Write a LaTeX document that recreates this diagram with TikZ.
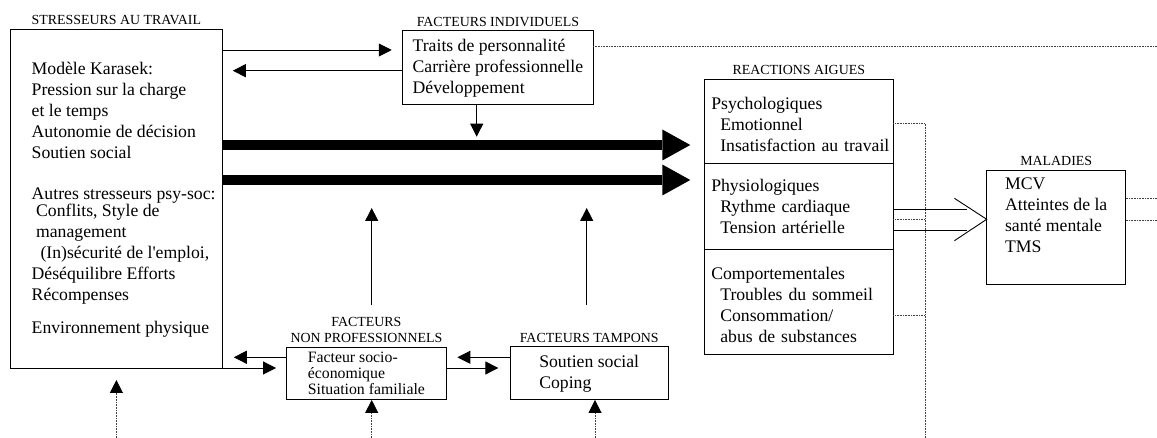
\documentclass[tikz,border=0pt]{standalone}
\usepackage{fontspec}
\setmainfont{Liberation Serif}
\usetikzlibrary{arrows.meta,positioning}
\tikzset{words/.style={inner sep=0,outer sep=0,align=left,font=\fontsize{17.7}{21}\selectfont},
    boxy/.style={draw,rectangle,line width=0.9pt,words},
    reacpart/.style={boxy,minimum width=189pt,text width=175pt},
    headline/.style={inner sep=0,align=center,font=\fontsize{13.9}{16.6}\selectfont},
    thinarrow/.style={-{Triangle[length=13pt,width=13pt]},line width=0.9pt},
    fatarrow/.style={-{Triangle[length=28pt,width=31pt,line width=0pt]},line width=10pt},
    dotty/.style={line width=0.8pt,dash pattern=on 0.8pt off 0.8pt,black!75},
    dotarrow/.style={dotty,-{Triangle[length=13pt,width=13pt,color=black]}}
}
\begin{document}
\begin{tikzpicture}[x=1pt,y=1pt,label distance=4pt]

\path [use as bounding box,fill=white] (0,0) rectangle (1157,438);

%% boxes
\node (stress) [boxy,minimum width=212.7pt,minimum height=339pt,label={[headline]above:STRESSEURS AU TRAVAIL}] at (116.4,239.5) {};
\node (stressTxt) [words,anchor=north west] at (31.7,376.3) {Modèle Karasek:\\Pression sur la charge\\et le temps\\Autonomie de décision\\Soutien social\\[20pt]Autres stresseurs psy-soc:\\[-4pt]\hspace*{4.4pt}Conflits, Style de\\\hspace*{4.4pt}management\\\hspace*{8.8pt}(In)sécurité de l\textquotesingle emploi,\\Déséquilibre Efforts\\Récompenses\\[12pt]Environnement physique};

\node (indiv) [boxy,minimum width=190.3pt,minimum height=74.3pt,label={[headline]above:FACTEURS INDIVIDUELS}] at (497.9,370.2) {Traits de personnalité\\Carrière professionnelle\\Développement};

\node (psych) [reacpart,minimum height=84.7pt,text height=18pt,label={[headline]above:REACTIONS AIGUES}] at (798.8,316.4) {Psychologiques\\\hspace*{9pt}Emotionnel\\\hspace*{9pt}\mbox{Insatisfaction au travail}};
\node (physio) [reacpart,minimum height=85.3pt,below=0pt of psych] {Physiologiques\\\hspace*{9pt}Rythme cardiaque\\\hspace*{9pt}Tension artérielle};
\node (comport) [reacpart,minimum height=105.7pt,text height=18pt,below=0pt of physio] {Comportementales\\\hspace*{9pt}Troubles du sommeil\\\hspace*{9pt}Consommation/\\\hspace*{9pt}abus de substances};

\node (malad) [boxy,minimum width=139pt,minimum height=114pt,text depth=24pt,label={[headline]above:MALADIES}] at (1056.2,211) {MCV\\Atteintes de la\\santé mentale\\TMS};

\node (nonpro) [boxy,font=\fontsize{15.8}{16}\selectfont,minimum width=159.3pt,minimum height=52.7pt,label={[headline]above:{FACTEURS\\NON PROFESSIONNELS}}] at (366.4,64.4) {Facteur socio-\\économique\\Situation familiale};
\node (tampon) [boxy,minimum width=158.3pt,minimum height=53.3pt,label={[headline]above:FACTEURS TAMPONS}] at (589.2,64.7) {Soutien social\\Coping};

%% free ends
\coordinate (hitA) at (476.7,301.3);
\coordinate (riseB) at (371.7,133);
\coordinate (hitB) at (371.7,230);
\coordinate (riseC) at (586.7,133);
\coordinate (hitC) at (586.7,230);
\coordinate (footA) at (116.4,0);
\coordinate (footB) at (371.7,0);
\coordinate (footC) at (595,0);
\coordinate (rail) at (925,314.7);
\coordinate (railFoot) at (925,0);
\coordinate (farEdge) at (1157,0);

%% stresseurs and individual factors
\draw [thinarrow,shorten >=11pt] (stress.east |- 0,388) -- (indiv.west |- 0,388);
\draw [thinarrow,shorten >=10pt] (indiv.west |- 0,367.3) -- (stress.east |- 0,367.3);
\draw [thinarrow] (indiv.south -| hitA) -- (hitA);
\draw [dotty] (indiv.east |- 0,391.3) -- (farEdge |- 0,391.3);

% main arrows
\draw [fatarrow,shorten >=14pt] (stress.east |- 0,293) -- (psych.west |- 0,293);
\draw [fatarrow,shorten >=14pt] (stress.east |- 0,258) -- (physio.west |- 0,258);

\draw [thinarrow] (riseB) -- (hitB);
\draw [thinarrow] (riseC) -- (hitC);

% bottom row
\draw [thinarrow,shorten >=11pt] (nonpro.west |- 0,80.7) -- (stress.east |- 0,80.7);
\draw [thinarrow,shorten >=10.7pt] (stress.south east) -- (nonpro.west |- stress.south east);
\draw [thinarrow,shorten >=11.3pt] (tampon.west |- 0,80.7) -- (nonpro.east |- 0,80.7);
\draw [thinarrow,shorten >=11.7pt] (nonpro.east |- 0,70) -- (tampon.west |- 0,70);

\draw [dotarrow,shorten >=12pt] (footA) -- (stress.south);
\draw [dotarrow] (footB) -- (footB |- nonpro.south);
\draw [dotarrow] (footC) -- (footC |- tampon.south);

% reactions to diseases
\draw [dotty] (psych.east |- rail) -- (rail) -- (railFoot);
\draw [dotty] (physio.east |- 0,218.7) -- (rail |- 0,218.7);
\draw [dotty] (comport.east |- 0,123) -- (rail |- 0,123);

\draw [line width=0.9pt] (physio.east |- 0,228.7) -- ++(74,0);
\draw [line width=0.9pt] (physio.east |- 0,208) -- ++(74,0);
\draw [line width=0.9pt] ([shift={(-32.3,21)}]malad.west |- 0,218.7) -- (malad.west |- 0,218.7) -- ++(-32.3,-21.4);

\draw [dotty] (malad.east |- 0,239.7) -- (farEdge |- 0,239.7);
\draw [dotty] (malad.east |- 0,218) -- (farEdge |- 0,218);

\end{tikzpicture}
\end{document}
